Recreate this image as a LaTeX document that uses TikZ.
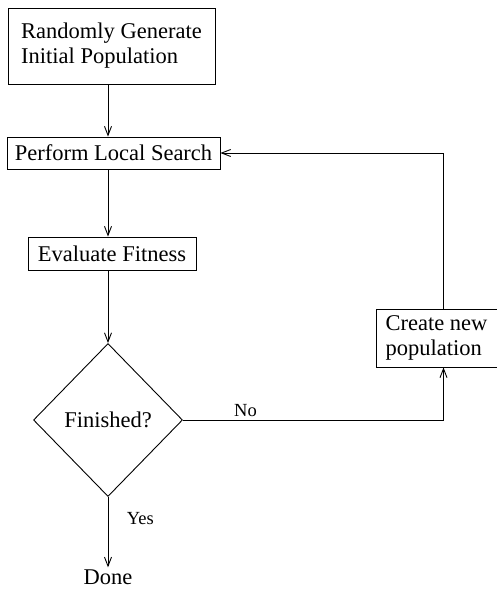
\documentclass[tikz,border=0pt]{standalone}
\usepackage{fontspec}
\setmainfont{Liberation Serif}
\usetikzlibrary{shapes.geometric,arrows.meta}

\begin{document}
\begin{tikzpicture}[x=1pt,y=-1pt,>={Straight Barb[length=9pt,width=7pt]}]
        \tikzstyle{every node}=[font=\fontsize{22.5}{25}\selectfont]
        \tikzstyle{block}=[draw,line width=0.9pt,inner sep=0pt]
        \tikzstyle{flow}=[->,line width=0.9pt]
        \tikzstyle{tag}=[font=\fontsize{18.5}{20}\selectfont]
        \useasboundingbox (0,0) rectangle (497,589);
        \node[block,minimum width=207pt,minimum height=76pt,align=left] (init) at (111.5,46) {Randomly Generate\\Initial Population};
        \node[block,minimum width=213pt,minimum height=32pt] (search) at (113.5,153) {Perform Local Search};
        \node[block,minimum width=168pt,minimum height=33pt] (eval) at (112,253.5) {Evaluate Fitness};
        \node[block,shape=diamond,minimum width=149pt,minimum height=153pt] (test) at (108,420) {Finished?};
        \node[block,minimum width=121pt,minimum height=58pt,align=left] (make) at (436.5,338) {Create new\\population};
        \node[inner sep=2pt] (done) at (108,577) {Done};
        \draw[flow] (init.south -| test.north) -- (search.north -| test.north);
        \draw[flow] (search.south -| test.north) -- (eval.north -| test.north);
        \draw[flow] (eval.south -| test.north) -- (test.north);
        \draw[flow] (test.south) -- node[tag,right=15pt,pos=0.3] (yes) {Yes} (done.north);
        \draw[flow] (test.east) -| node[tag,above,pos=0.12] (no) {No} ([xshift=7pt]make.south);
        \draw[flow] ([xshift=7pt]make.north) |- (search.east);
    \end{tikzpicture}
\end{document}
